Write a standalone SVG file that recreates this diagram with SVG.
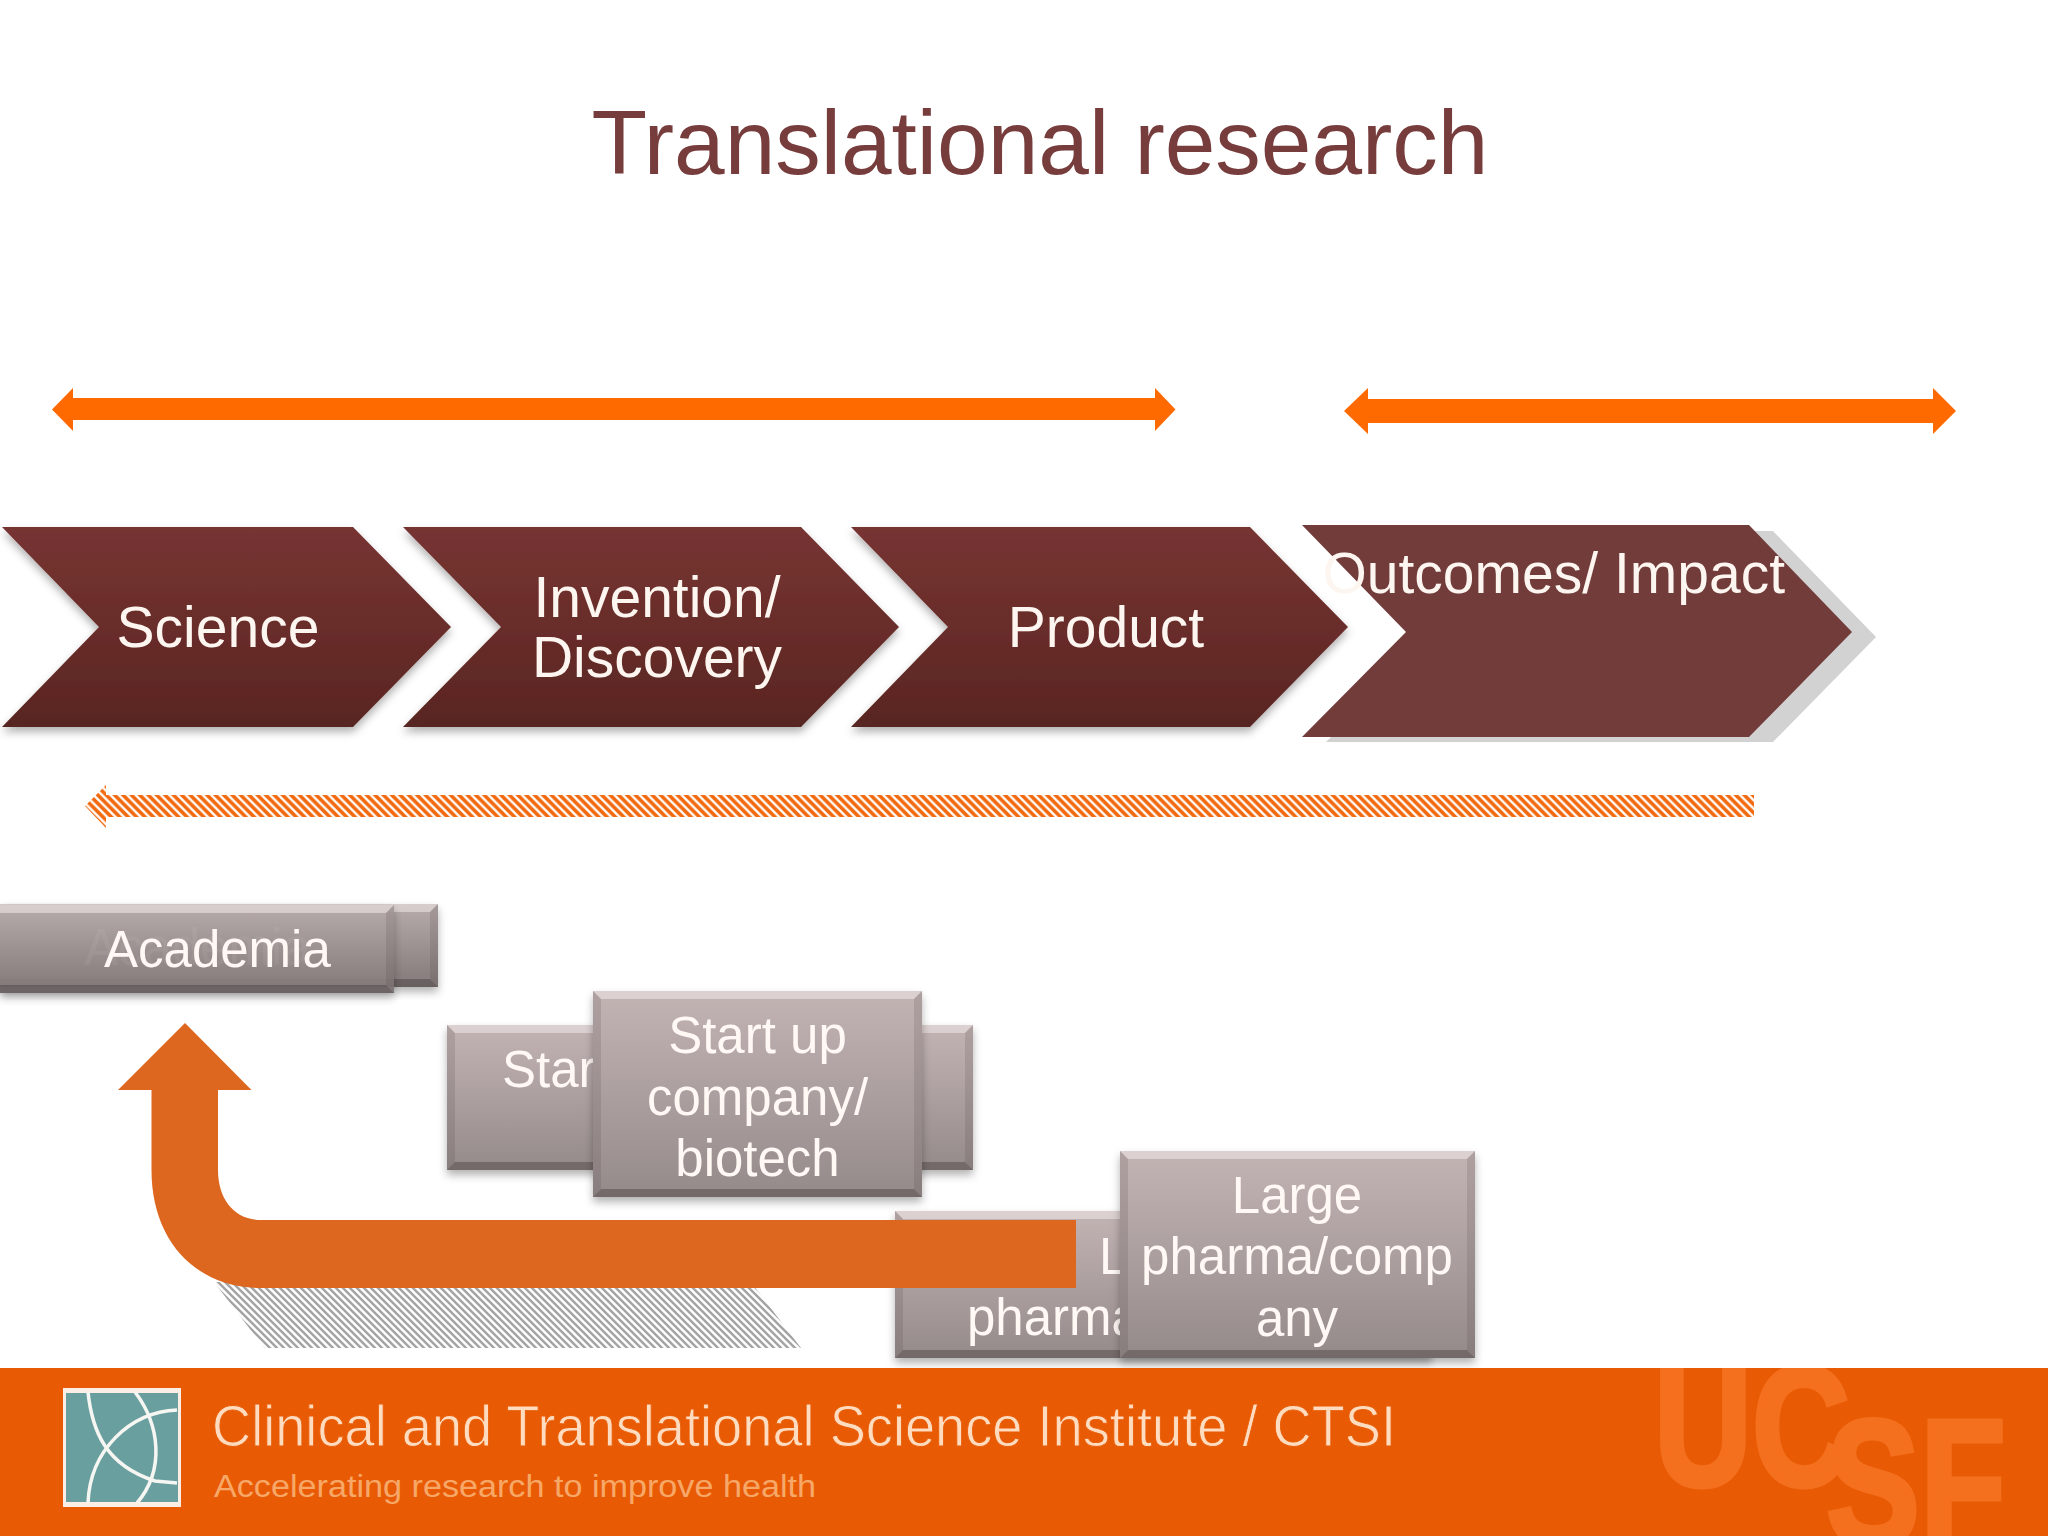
<svg xmlns="http://www.w3.org/2000/svg" width="2048" height="1536" viewBox="0 0 2048 1536">
<style>
text{font-family:"Liberation Sans",Arial,sans-serif}
.t{fill:#fdf6f0;font-size:57px;text-anchor:middle}
.b{fill:#fff8f4;font-size:51px;text-anchor:middle}
.bs{fill:#fff8f4;font-size:51px}
.hi{fill:#f6eeee;opacity:.5}
.lo{fill:#3c3434;opacity:.38}
.sd{fill:#4a4040;opacity:.16}
.orange{fill:#ff6a00}
</style>
<defs>
<linearGradient id="chev" x1="0" y1="0" x2="0" y2="1"><stop offset="0" stop-color="#773432"/><stop offset=".5" stop-color="#692d2a"/><stop offset="1" stop-color="#582521"/></linearGradient>
<linearGradient id="box" x1="0" y1="0" x2="0" y2="1"><stop offset="0" stop-color="#c3b4b4"/><stop offset="1" stop-color="#958a8a"/></linearGradient>
<linearGradient id="acad" x1="0" y1="0" x2="0" y2="1"><stop offset="0" stop-color="#b8acac"/><stop offset="1" stop-color="#837979"/></linearGradient>
<filter id="soft" x="-5%" y="-10%" width="110%" height="125%"><feDropShadow dx="0" dy="5" stdDeviation="4" flood-color="#000" flood-opacity=".3"/></filter>
<pattern id="hatchO" patternUnits="userSpaceOnUse" width="8.4" height="8.4"><path d="M-2.1 -2.1L10.5 10.5M-2.1 6.3L2.1 10.5M6.3 -2.1L10.5 2.1" stroke="#f26a10" stroke-width="3.6"/></pattern>
<pattern id="hatchG" patternUnits="userSpaceOnUse" width="7" height="7"><path d="M-1.75 -1.75L8.75 8.75M-1.75 5.25L1.75 8.75M5.25 -1.75L8.75 1.75" stroke="#a4a4a4" stroke-width="2.5"/></pattern>
<clipPath id="foot"><rect x="0" y="1368" width="2048" height="168"/></clipPath>
</defs>
<rect width="2048" height="1536" fill="#fff"/>
<g id="title"><text x="1040" y="174" font-size="91" fill="#773c3c" text-anchor="middle">Translational research</text></g>

<g id="chevron-science"><polygon points="2,527 353,527 451,627 353,727 2,727 99,627" fill="url(#chev)" filter="url(#soft)"/><text class="t" x="218" y="647">Science</text></g>
<g id="chevron-invention"><polygon points="403,527 801,527 899,627 801,727 403,727 501,627" fill="url(#chev)" filter="url(#soft)"/><text class="t" x="657" y="617">Invention/</text><text class="t" x="657" y="677">Discovery</text></g>
<g id="chevron-product"><polygon points="851,527 1250,527 1348,627 1250,727 851,727 948,627" fill="url(#chev)" filter="url(#soft)"/><text class="t" x="1106" y="647">Product</text></g>
<g id="chevron-outcomes"><polygon points="1326,531 1773,531 1876,637 1773,742 1326,742 1430,637" fill="#d2d2d2"/><polygon points="1302,525 1749,525 1852,632 1749,737 1302,737 1406,632" fill="#723c3a"/><text class="t" style="text-anchor:end" x="1785" y="593">Outcomes/ Impact</text></g>

<g id="academia">
<rect x="0" y="904" width="438" height="83" fill="url(#acad)" filter="url(#soft)"/>
<polygon class="hi" points="0,904 438,904 430,912 0,912"/><polygon class="sd" points="438,904 438,987 430,979 430,912"/><polygon class="lo" points="0,987 438,987 430,979 0,979"/>
<text class="bs" x="84" y="965" opacity=".55">Academia</text>
<rect x="0" y="905" width="394" height="88" fill="url(#acad)" opacity=".9" filter="url(#soft)"/>
<polygon class="hi" points="0,905 394,905 386,913 0,913"/><polygon class="sd" points="394,905 394,993 386,985 386,913"/><polygon class="lo" points="0,993 394,993 386,985 0,985"/>
<text class="bs" x="104" y="967">Academia</text>
</g>

<g id="startup">
<rect x="447" y="1025" width="526" height="145" fill="url(#box)" filter="url(#soft)"/>
<polygon class="hi" points="447,1025 973,1025 965,1033 455,1033"/><polygon class="sd" points="447,1025 455,1033 455,1162 447,1170"/><polygon class="sd" points="973,1025 973,1170 965,1162 965,1033"/><polygon class="lo" points="447,1170 973,1170 965,1162 455,1162"/>
<text class="bs" x="502" y="1087">Star</text>
<rect x="593" y="991" width="329" height="206" fill="url(#box)" filter="url(#soft)"/>
<polygon class="hi" points="593,991 922,991 914,999 601,999"/><polygon class="sd" points="593,991 601,999 601,1189 593,1197"/><polygon class="sd" points="922,991 922,1197 914,1189 914,999"/><polygon class="lo" points="593,1197 922,1197 914,1189 601,1189"/>
<text class="b" x="757.500" y="1053">Start up</text><text class="b" x="757.500" y="1115">company/</text><text class="b" x="757.500" y="1176">biotech</text>
</g>

<g id="pharma">
<rect x="895" y="1211" width="537" height="147" fill="url(#box)" filter="url(#soft)"/>
<polygon class="hi" points="895,1211 1432,1211 1424,1219 903,1219"/><polygon class="sd" points="895,1211 903,1219 903,1350 895,1358"/><polygon class="lo" points="895,1358 1432,1358 1424,1350 903,1350"/>
<text class="bs" x="1099" y="1274">L</text><text class="bs" x="967" y="1335">pharma</text>
<rect x="1120" y="1151" width="355" height="207" fill="url(#box)" filter="url(#soft)"/>
<polygon class="hi" points="1120,1151 1475,1151 1467,1159 1128,1159"/><polygon class="sd" points="1120,1151 1128,1159 1128,1350 1120,1358"/><polygon class="sd" points="1475,1151 1475,1358 1467,1350 1467,1159"/><polygon class="lo" points="1120,1358 1475,1358 1467,1350 1128,1350"/>
<text class="b" x="1297" y="1213">Large</text><text class="b" x="1297" y="1274">pharma/comp</text><text class="b" x="1297" y="1336">any</text>
</g>

<g id="footer">
<rect x="0" y="1368" width="2048" height="168" fill="#e85b04"/>
<g clip-path="url(#foot)" fill="#f5701e" stroke="#f5701e" stroke-width="5" font-weight="700">
<text x="1654" y="1485" font-size="170" textLength="196" lengthAdjust="spacingAndGlyphs">UC</text>
<text x="1826" y="1545" font-size="180" textLength="180" lengthAdjust="spacingAndGlyphs">SF</text>
</g>
<rect x="63" y="1388" width="118" height="119" fill="#fbeee4"/>
<rect x="66" y="1393" width="112" height="109" fill="#6a9fa0"/>
<g fill="none" stroke="#f6f6f2" stroke-width="3.500">
<path d="M88 1392C92 1430 105 1465 155 1481L177 1483"/>
<path d="M135 1392C160 1425 165 1470 137 1503"/>
<path d="M177 1410C130 1412 90 1450 88 1503"/>
</g>
<text x="212" y="1446" font-size="57" fill="#ffdcc0" stroke="#e85b04" stroke-width=".9" textLength="1184" lengthAdjust="spacingAndGlyphs">Clinical and Translational Science Institute / CTSI</text>
<text x="214" y="1497" font-size="31" fill="#f7a868" textLength="602" lengthAdjust="spacingAndGlyphs">Accelerating research to improve health</text>
</g>

<g id="connectors">
<polygon class="orange" points="52,409.500 73,388 73,398 1155,398 1155,388 1175.500,409.500 1155,431 1155,420 73,420 73,431"/>
<polygon class="orange" points="1344,411 1368,388 1368,399 1933,399 1933,388 1956,411 1933,434 1933,423 1368,423 1368,434"/>
<polygon fill="url(#hatchO)" points="85,806 106,785 106,795 1754,795 1754,817 106,817 106,828"/>
<polygon fill="url(#hatchG)" points="214,1282 751,1282 801,1348 264.500,1348"/>
<path fill="#dd671e" d="M185 1023L251.500 1090H218V1170C218 1200 235 1220 261 1220H1076V1288H261C195 1288 151.500 1240 151.500 1170V1090H118Z"/>
</g>
</svg>
